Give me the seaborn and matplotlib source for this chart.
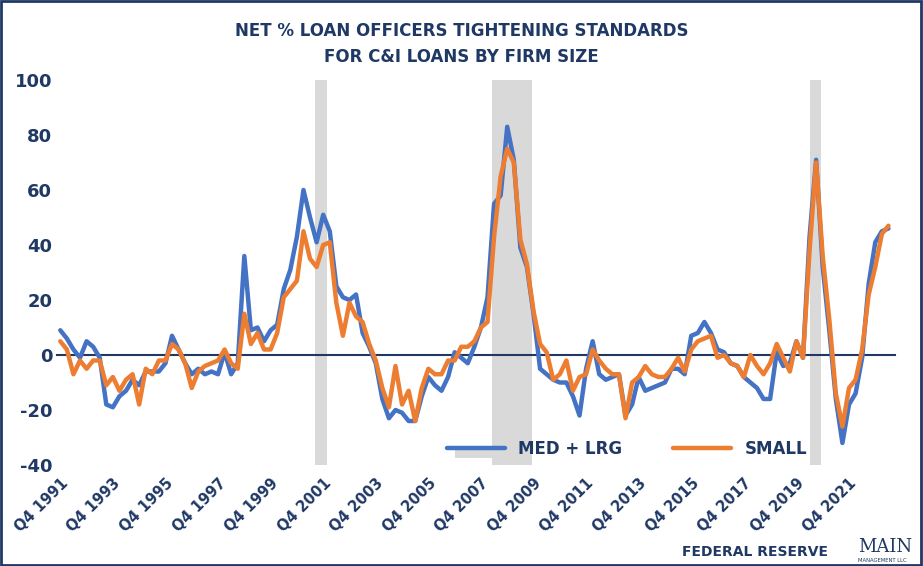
import matplotlib
matplotlib.use("Agg")
import matplotlib.pyplot as plt
import seaborn as sns
import numpy as np
import pandas as pd
from matplotlib.patches import Rectangle

med_lrg = [9,6,2,-1,5,3,-1,-18,-19,-15,-13,-9,-11,-6,-6,-6,-3,7,2,-3,
           -7,-5,-7,-6,-7,1,-7,-3,36,9,10,5,9,11,24,31,43,60,50,41,
           51,45,25,21,20,22,8,3,-3,-16,-23,-20,-21,-24,-24,-15,-8,-11,-13,-8,
           1,-1,-3,3,10,21,55,58,83,71,39,32,15,-5,-7,-9,-10,-10,-15,-22,
           -5,5,-7,-9,-8,-7,-22,-18,-8,-13,-12,-11,-10,-5,-5,-7,7,8,12,8,
           2,1,-3,-4,-8,-10,-12,-16,-16,1,-4,-3,5,-1,43,71,32,9,-16,-32,
           -18,-14,-1,26,41,45,46]
small = [5,2,-7,-2,-5,-2,-2,-11,-8,-13,-9,-7,-18,-5,-7,-2,-2,4,2,-3,
         -12,-6,-4,-3,-2,2,-3,-5,15,4,8,2,2,8,21,24,27,45,35,32,
         40,41,19,7,19,14,12,4,-2,-12,-19,-4,-18,-13,-24,-12,-5,-7,-7,-2,
         -2,3,3,5,10,12,43,65,75,70,42,33,16,4,1,-9,-7,-2,-13,-8,
         -7,2,-2,-5,-7,-7,-23,-10,-8,-4,-7,-8,-8,-5,-1,-6,2,5,6,7,
         -1,0,-3,-4,-8,0,-4,-7,-3,4,-1,-6,5,-1,38,70,36,13,-14,-26,
         -12,-9,2,22,32,44,47]
recessions = [(38.8, 40.6), (65.7, 71.7), (114.0, 115.8)]
tick_labels = [f"Q4 {y}" for y in range(1991, 2022, 2)]

n = len(med_lrg)
df = pd.DataFrame({"q": list(range(n)) * 2,
                   "val": med_lrg + small,
                   "series": ["MED + LRG"] * n + ["SMALL"] * n})

sns.set_theme(style="white")
plt.rcParams['font.family'] = ['DejaVu Sans']
plt.rcParams['axes.unicode_minus'] = False
navy = "#1F3864"
fig = plt.figure(figsize=(9.23, 5.66), dpi=100)
ax = fig.add_axes([57/923, 1-465/566, 838/923, 385/566])

for a, b in recessions:
    ax.axvspan(a, b, color="#D9D9D9", lw=0, zorder=0)
ax.add_patch(Rectangle((60, -37.5), 5.7, 3.7, color="#D9D9D9", lw=0, zorder=0))

sns.lineplot(data=df, x="q", y="val", hue="series",
             palette=["#4472C4", "#ED7D31"], linewidth=3.2, ax=ax, zorder=3)

ax.set_xlim(-0.5, 127)
ax.set_ylim(-40, 100)
ax.set_yticks(range(-40, 101, 20))
ax.set_xticks(range(0, n, 8))
ax.set_xticklabels(tick_labels)
for s in ["top", "right", "left"]:
    ax.spines[s].set_visible(False)
ax.spines["bottom"].set_position(("data", 0))
ax.spines["bottom"].set_color(navy)
ax.spines["bottom"].set_linewidth(1.5)
ax.tick_params(axis="x", direction="out", length=5, width=1.2, color=navy, pad=82)
ax.tick_params(axis="y", length=0, labelsize=13, labelcolor=navy)
for t in ax.get_yticklabels():
    t.set_fontweight("bold")
ax.set_xlabel("")
ax.set_ylabel("")
ax.legend(loc="lower center", bbox_to_anchor=(0.68, -0.02), ncol=2, frameon=False,
          handlelength=3.5, columnspacing=3,
          prop={"weight": "bold", "size": 12}, labelcolor=navy)
plt.setp(ax.get_xticklabels(), rotation=45, ha="right", rotation_mode="anchor",
         color=navy, fontweight="bold", fontsize=10.5)

fig.text(0.5, 0.945, "NET % LOAN OFFICERS TIGHTENING STANDARDS", ha="center",
         va="center", color=navy, fontweight="bold", fontsize=12)
fig.text(0.5, 0.9, "FOR C&I LOANS BY FIRM SIZE", ha="center",
         va="center", color=navy, fontweight="bold", fontsize=12)
fig.text(0.897, 0.025, "FEDERAL RESERVE", ha="right", va="center",
         color=navy, fontweight="bold", fontsize=10)
fig.text(0.93, 0.034, "MAIN", ha="left", va="center", color=navy,
         fontsize=13, family="DejaVu Serif")
fig.text(0.93, 0.01, "MANAGEMENT LLC", ha="left", va="center", color=navy,
         fontsize=3.8)
fig.patches.append(Rectangle((0.001, 0.001), 0.997, 0.997, transform=fig.transFigure,
                             fill=False, edgecolor=navy, lw=2))
fig.savefig("out.png", dpi=100)
